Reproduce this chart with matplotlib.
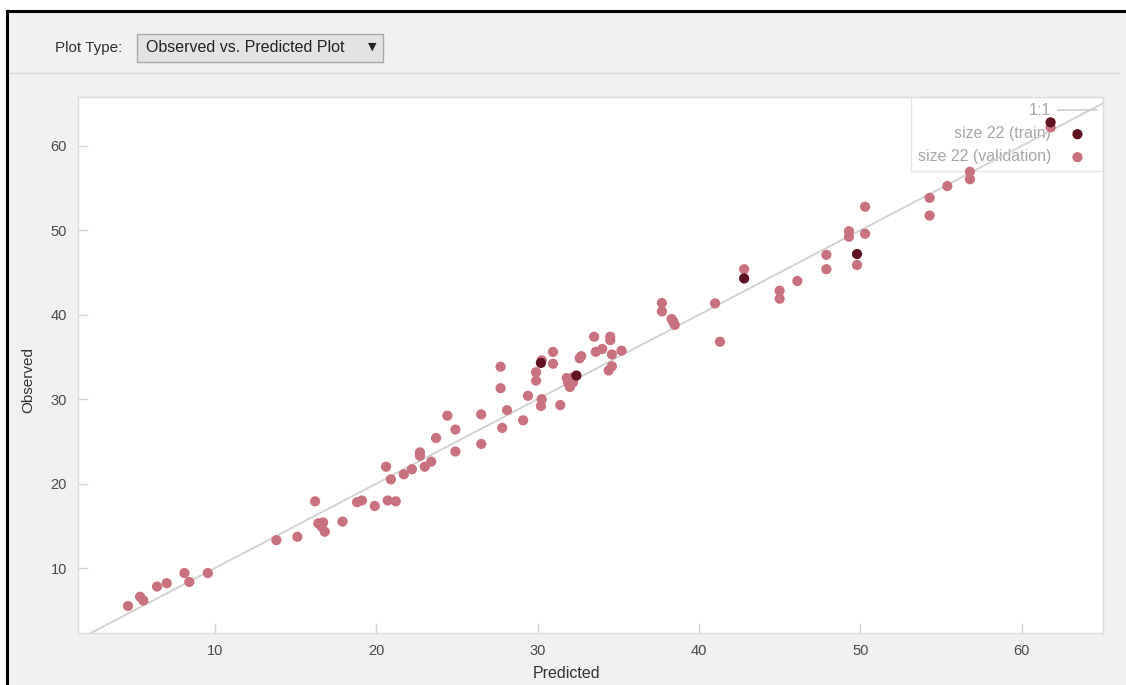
import matplotlib
matplotlib.use("Agg")
import matplotlib.pyplot as plt
from matplotlib.lines import Line2D
from matplotlib.patches import Rectangle

# values
train_pred = [30.2, 32.4, 42.8, 49.8, 61.8]
train_obs = [34.3, 32.8, 44.3, 47.2, 62.8]

valid_pred = [4.6, 5.35, 5.55, 6.4, 7.0, 8.1, 8.4, 9.55, 13.8, 15.1,
              16.2, 16.4, 16.7, 16.6, 16.8, 17.9, 18.8, 19.1, 19.9, 20.6,
              20.7, 21.2, 20.9, 21.7, 22.2, 22.7, 22.7, 23.0, 23.4, 23.7,
              24.4, 24.9, 24.9, 26.5, 26.5, 27.7, 27.7, 27.8, 28.1, 29.1,
              29.4, 29.9, 29.9, 30.25, 30.25, 30.2, 30.95, 30.95, 31.4, 31.8,
              32.1, 31.9, 32.2, 32.0, 32.6, 32.7, 33.5, 33.6, 34.0, 34.5,
              34.5, 34.6, 34.6, 34.4, 35.2, 37.7, 37.7, 38.3, 38.4, 38.5,
              41.0, 41.3, 42.8, 45.0, 45.0, 46.1, 47.9, 47.9, 49.3, 49.3,
              49.8, 50.3, 50.3, 54.3, 54.3, 55.4, 56.8, 56.8, 61.8]
valid_obs = [5.5, 6.6, 6.15, 7.8, 8.2, 9.4, 8.35, 9.4, 13.3, 13.7,
             17.9, 15.3, 15.4, 14.9, 14.3, 15.5, 17.8, 18.0, 17.35, 22.0,
             18.0, 17.9, 20.5, 21.1, 21.7, 23.3, 23.7, 22.0, 22.6, 25.4,
             28.05, 26.4, 23.8, 28.2, 24.7, 33.85, 31.3, 26.6, 28.7, 27.5,
             30.4, 33.2, 32.2, 34.6, 30.0, 29.2, 35.6, 34.2, 29.3, 32.5,
             32.5, 31.9, 32.0, 31.45, 34.85, 35.1, 37.4, 35.6, 35.95, 37.4,
             37.0, 35.3, 33.9, 33.4, 35.75, 41.4, 40.4, 39.5, 39.2, 38.8,
             41.35, 36.8, 45.4, 42.85, 41.9, 44.0, 47.1, 45.4, 49.9, 49.25,
             45.9, 52.8, 49.6, 53.85, 51.75, 55.25, 56.95, 56.05, 62.2]

x_ticks = [10, 20, 30, 40, 50, 60]
y_ticks = [10, 20, 30, 40, 50, 60]

plt.rcParams["font.family"] = ["Liberation Sans", "DejaVu Sans"]

fig = plt.figure(figsize=(11.26, 6.85), dpi=100, facecolor="#f1f1f1")

W, H = 1126.0, 685.0

def fx(px):
    return px / W

def fy(py):
    return 1 - py / H

# white margin outside the panel frame, then the black frame edges
fig.patches.append(Rectangle((0, fy(11)), 1, 1 - fy(11), transform=fig.transFigure,
                             facecolor="white", edgecolor="none", zorder=0))
fig.patches.append(Rectangle((0, 0), fx(7), 1, transform=fig.transFigure,
                             facecolor="white", edgecolor="none", zorder=0))
fig.add_artist(Line2D([fx(7), 1], [fy(11), fy(11)], transform=fig.transFigure,
                      color="black", lw=2.2))
fig.add_artist(Line2D([fx(7), fx(7)], [0, fy(11)], transform=fig.transFigure,
                      color="black", lw=2.2))

# toolbar: label, dropdown, separator
fig.text(fx(55), fy(48), "Plot Type:", fontsize=11, color="#333333", va="center", ha="left")
fig.patches.append(Rectangle((fx(137), fy(62)), fx(383) - fx(137), fy(34) - fy(62),
                             transform=fig.transFigure, facecolor="#e3e3e3",
                             edgecolor="#a9a9a9", lw=1))
fig.text(fx(146), fy(48), "Observed vs. Predicted Plot", fontsize=11.5, color="#222222",
         va="center", ha="left")
fig.text(fx(372), fy(47), "\u25BC", fontsize=8, color="#222222", va="center", ha="center",
         family="DejaVu Sans")
fig.add_artist(Line2D([fx(10), fx(1119)], [fy(73), fy(73)], transform=fig.transFigure,
                      color="#dadada", lw=1))

ax = fig.add_axes([fx(78), fy(633), fx(1103) - fx(78), fy(97) - fy(633)])
ax.set_facecolor("white")

ax.plot([0, 70], [0, 70], color="#d0d0d0", lw=1.3, zorder=2, label="1:1")
ax.scatter(train_pred, train_obs, s=54, color="#5e1222", edgecolors="none", zorder=4,
           label="size 22 (train)")
ax.scatter(valid_pred, valid_obs, s=54, color="#c9727f", edgecolors="none", zorder=3,
           label="size 22 (validation)")

ax.set_xlim(1.5, 65.05)
ax.set_ylim(2.3, 65.8)
ax.set_xticks(x_ticks)
ax.set_yticks(y_ticks)
ax.tick_params(direction="in", length=7, width=1, color="#d5d5d5", labelcolor="#4a4a4a",
               labelsize=10.5, pad=8)
for sp in ax.spines.values():
    sp.set_color("#dcdcdc")
    sp.set_linewidth(1)

leg = ax.legend(loc="upper right", borderaxespad=0, markerfirst=False, fancybox=False,
                framealpha=1, edgecolor="#e6e6e6", labelcolor="#a6a6a6", fontsize=11.5,
                handlelength=2.4, handletextpad=0.45, labelspacing=0.5, borderpad=0.4,
                scatterpoints=1)
leg.set_zorder(1)
leg.get_frame().set_linewidth(1)

fig.text(fx(567), fy(673), "Predicted", fontsize=11.5, color="#333333", ha="center", va="center")
fig.text(fx(28), fy(380), "Observed", fontsize=11, color="#333333", ha="center", va="center",
         rotation=90)

plt.savefig("out.png", dpi=100, facecolor=fig.get_facecolor())
